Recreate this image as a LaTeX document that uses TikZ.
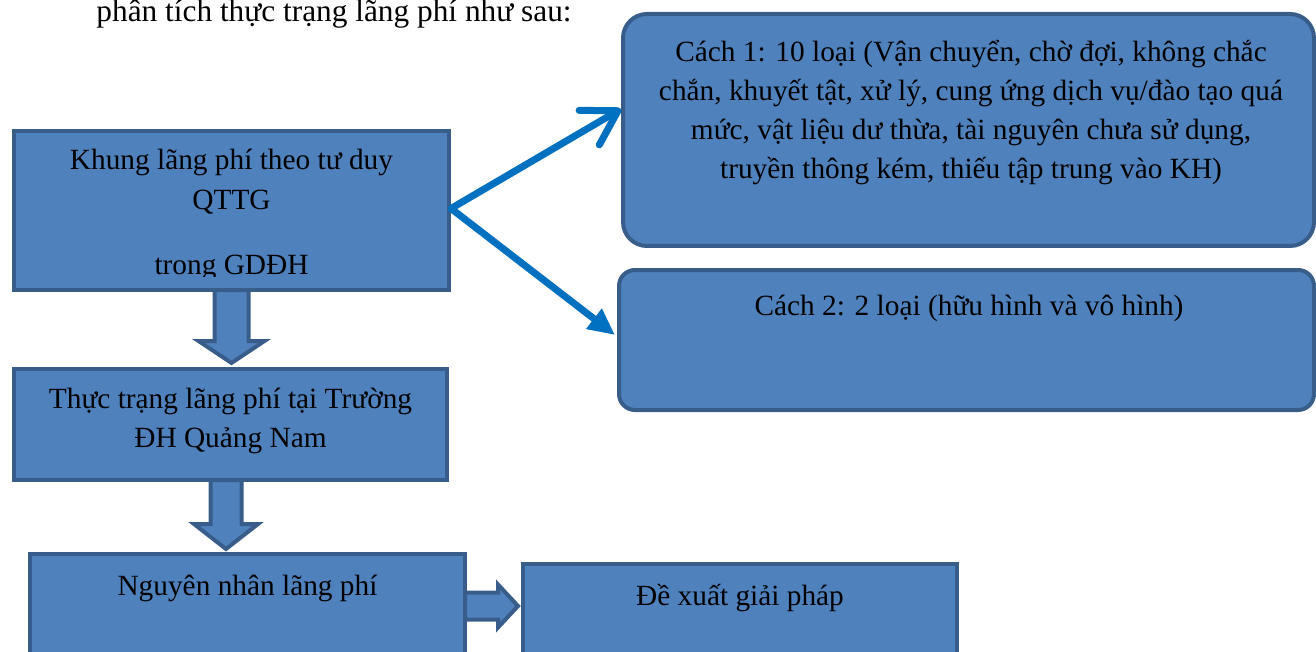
\documentclass[tikz,border=0pt]{standalone}
\usepackage{fontspec}
\setmainfont{Liberation Serif}
\usetikzlibrary{calc,fit,arrows.meta}
\definecolor{boxfill}{HTML}{4F81BD}
\definecolor{boxline}{HTML}{385D8A}
\definecolor{linkblue}{HTML}{0070C0}
\begin{document}
\begin{tikzpicture}[x=0.75pt,y=-0.75pt,
  box/.style={draw=boxline, fill=boxfill, line width=3pt, inner sep=0pt},
  txt/.style={font=\fontsize{22}{26}\selectfont, inner sep=0pt, anchor=base, text=black},
  bodytxt/.style={font=\fontsize{23.5}{28}\selectfont, inner sep=0pt, anchor=base, text=black},
  blockarrow/.style={draw=boxline, fill=boxfill, line width=3pt, line join=miter},
  link/.style={draw=linkblue, line width=5.25pt}]
\useasboundingbox (0,0) rectangle (1316,652);
\clip (0,0) rectangle (1316,652);

% line of running text above the chart
\node[bodytxt] (lead) at (334,22) {phân tích thực trạng lãng phí như sau:};

% left column of boxes
\node[box, fit={(14,131) (449,290)}] (k) {};
\node[box, fit={(14,369) (447,480)}] (t) {};
\node[box, fit={(30,554) (465,700)}] (n) {};
\node[box, fit={(523,564) (957,700)}] (d) {};

% right column: the two ways of classifying waste
\node[box, rounded corners=18pt, fit={(623,14) (1314,246)}] (c1) {};
\node[box, rounded corners=12pt, fit={(619,270) (1314,410)}] (c2) {};

% box texts
\node[txt] (kt1) at (231.5,170) {Khung lãng phí theo tư duy};
\node[txt] (kt2) at (231.5,210) {QTTG};
\begin{scope}
  \clip (k.north west) rectangle ($(k.south east)+(0,-16)$);
  \node[txt] (kt3) at (231.5,274) {trong GDĐH};
\end{scope}
\node[txt] (tt1) at (230.5,408) {Thực trạng lãng phí tại Trường};
\node[txt] (tt2) at (230.5,447) {ĐH Quảng Nam};
\node[txt] (nt) at (247.5,595) {Nguyên nhân lãng phí};
\node[txt] (dt) at (740,605) {Đề xuất giải pháp};
\node[txt] (c1t1) at (971,62) {Cách 1: 10 loại (Vận chuyển, chờ đợi, không chắc};
\node[txt] (c1t2) at (971,101) {chắn, khuyết tật, xử lý, cung ứng dịch vụ/đào tạo quá};
\node[txt] (c1t3) at (971,140) {mức, vật liệu dư thừa, tài nguyên chưa sử dụng,};
\node[txt] (c1t4) at (971,179) {truyền thông kém, thiếu tập trung vào KH)};
\node[txt] (c2t) at (969,315) {Cách 2: 2 loại (hữu hình và vô hình)};

% block arrows between the stages
\draw[blockarrow]
  ($(k.south)+(-17,-2)$) -- ($(k.south |- t.north)+(-17,-26)$)
  -- ($(k.south |- t.north)+(-33,-26)$) -- ($(k.south |- t.north)+(0,-4)$)
  -- ($(k.south |- t.north)+(33,-26)$) -- ($(k.south |- t.north)+(17,-26)$)
  -- ($(k.south)+(17,-2)$) -- cycle;
\coordinate (a2) at ($(t.south)+(-4.5,0)$);
\draw[blockarrow]
  ($(a2)+(-15.5,-2)$) -- ($(a2 |- n.north)+(-15.5,-28)$)
  -- ($(a2 |- n.north)+(-32,-28)$) -- ($(a2 |- n.north)+(0,-3)$)
  -- ($(a2 |- n.north)+(32,-28)$) -- ($(a2 |- n.north)+(15.5,-28)$)
  -- ($(a2)+(15.5,-2)$) -- cycle;
\coordinate (ra) at ($(n.north east)+(0,54)$);
\draw[blockarrow]
  ($(ra)+(-2,-13.5)$) -- ($(ra -| d.west)+(-23,-13.5)$)
  -- ($(ra -| d.west)+(-23,-21.5)$) -- ($(ra -| d.west)+(-3,0)$)
  -- ($(ra -| d.west)+(-23,21.5)$) -- ($(ra -| d.west)+(-23,13.5)$)
  -- ($(ra)+(-2,13.5)$) -- cycle;

% links to the two classifications
\draw[link, line cap=round, -{Straight Barb[length=25pt,width=30pt,round]}]
  ($(k.east)+(0,-2)$) -- ([yshift=15.75pt]c1.west);
\draw[link, -{Triangle[length=20pt,width=18pt]}]
  ($(k.east)+(0,-2)$) -- ([yshift=3.75pt,xshift=-1.5pt]c2.west);
\end{tikzpicture}
\end{document}
